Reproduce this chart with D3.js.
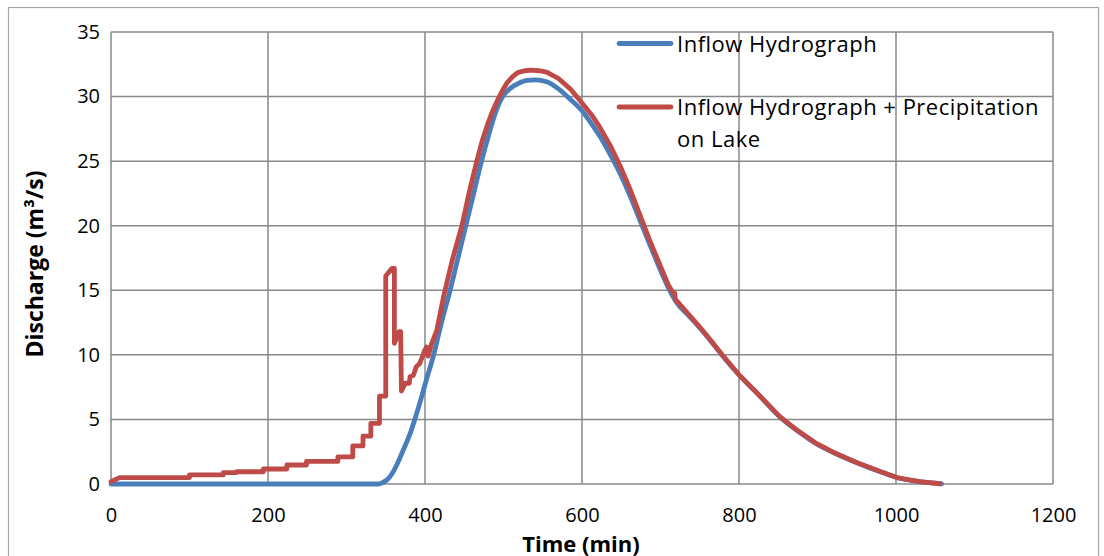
<!DOCTYPE html>
<html>
<head>
<meta charset="utf-8">
<script src="https://cdn.jsdelivr.net/npm/d3@7"></script>
<style>
body { margin: 0; background: #fff; }
svg { display: block; }
</style>
</head>
<body>
<div id="svg"></div>
<script>
// data (time in min, discharge in m3/s)
var inflowTime = [0, 340, 345, 350, 355, 360, 365, 370, 375, 381, 387, 394, 401, 411, 421, 432, 442, 452, 462, 472, 481, 490, 499, 508, 520, 530, 540, 555, 570, 585, 600, 612, 623, 636, 648, 660, 674, 686, 699, 710, 720, 735, 750, 765, 780, 800, 825, 852, 875, 899, 925, 954, 980, 1001, 1030, 1058];
var inflowQ = [0, 0, 0.08, 0.25, 0.55, 1.0, 1.6, 2.3, 3.0, 3.9, 5.0, 6.4, 7.9, 10.0, 12.5, 15.0, 17.5, 20.0, 22.5, 25.0, 27.0, 28.8, 30.0, 30.6, 31.05, 31.25, 31.3, 31.15, 30.6, 29.8, 28.9, 27.9, 26.9, 25.5, 24.1, 22.5, 20.4, 18.6, 16.7, 15.2, 14.1, 13.1, 12.1, 11.0, 9.85, 8.44, 6.9, 5.2, 4.1, 3.1, 2.3, 1.55, 0.95, 0.5, 0.18, 0.02];

var precipTime = [0, 11, 100, 100, 143, 143, 160, 160, 194, 194, 224, 224, 249, 249, 289, 289, 308, 308, 321, 321, 331, 331, 342, 342, 350, 350, 358, 361, 361, 367, 369, 370, 375, 380, 381, 385, 389, 393, 397, 400, 402, 404, 408, 415, 424, 435, 447, 456, 466, 473, 480, 487, 493, 499, 505, 511, 518, 527, 535, 545, 555, 570, 585, 600, 612, 623, 636, 648, 660, 674, 686, 699, 710, 716, 718, 719, 735, 750, 765, 780, 800, 825, 852, 875, 899, 925, 954, 980, 1001, 1030, 1056];
var precipQ = [0.18, 0.5, 0.5, 0.7, 0.7, 0.88, 0.88, 0.95, 0.95, 1.16, 1.16, 1.47, 1.47, 1.75, 1.75, 2.1, 2.1, 2.95, 2.95, 3.7, 3.7, 4.7, 4.7, 6.8, 6.8, 16.1, 16.7, 16.7, 10.9, 11.8, 11.8, 7.2, 7.8, 7.8, 8.3, 8.4, 9.1, 9.3, 9.9, 10.4, 10.6, 9.9, 10.8, 11.9, 14.6, 17.4, 20.0, 22.5, 25.0, 26.6, 27.9, 29.0, 29.8, 30.5, 31.1, 31.5, 31.85, 32.0, 32.05, 32.0, 31.9, 31.4, 30.6, 29.5, 28.6, 27.6, 26.2, 24.7, 23.0, 20.8, 18.9, 17.0, 15.4, 14.8, 14.8, 14.3, 13.2, 12.15, 11.05, 9.9, 8.46, 6.92, 5.22, 4.12, 3.12, 2.32, 1.56, 0.96, 0.5, 0.18, 0.02];

var xTicks = [0, 200, 400, 600, 800, 1000, 1200];
var yTicks = [0, 5, 10, 15, 20, 25, 30, 35];
var seriesNames = ["Inflow Hydrograph", "Inflow Hydrograph + Precipitation", "on Lake"];

var svgWidth = 1104, svgHeight = 556;
var fontFamily = "'Open Sans', 'DejaVu Sans', sans-serif";
var gridColour = "#888888";
var blueColour = "#4a7ebb", redColour = "#be4b48";

var svg = d3.select("#svg").append("svg")
    .attr("width", svgWidth).attr("height", svgHeight);

// chart border
svg.append("rect")
    .attr("x", 8.5).attr("y", 7.5)
    .attr("width", 1090).attr("height", 600)
    .attr("fill", "none").attr("stroke", "#a6a6a6").attr("stroke-width", 1.2);

var x = d3.scaleLinear().domain([0, 1200]).range([111, 1053]);
var y = d3.scaleLinear().domain([0, 35]).range([484, 32]);

// gridlines
var grid = svg.append("g");
grid.selectAll("line.v").data(xTicks).enter().append("line")
    .attr("x1", function(d) { return x(d); }).attr("x2", function(d) { return x(d); })
    .attr("y1", y(0)).attr("y2", y(35))
    .attr("stroke", gridColour).attr("stroke-width", 1.5);
grid.selectAll("line.h").data(yTicks).enter().append("line")
    .attr("x1", x(0)).attr("x2", x(1200))
    .attr("y1", function(d) { return y(d); }).attr("y2", function(d) { return y(d); })
    .attr("stroke", gridColour).attr("stroke-width", 1.5);

// axes (labels only)
var xAxis = svg.append("g")
    .attr("transform", "translate(0," + y(0) + ")")
    .call(d3.axisBottom(x).tickValues(xTicks).tickFormat(d3.format("d")).tickSize(0).tickPadding(24));
var yAxis = svg.append("g")
    .attr("transform", "translate(" + x(0) + ",0)")
    .call(d3.axisLeft(y).tickValues(yTicks).tickFormat(d3.format("d")).tickSize(0).tickPadding(11));
[xAxis, yAxis].forEach(function(a) {
    a.select(".domain").remove();
    a.selectAll("text")
        .attr("font-family", fontFamily)
        .attr("font-size", 20)
        .attr("fill", "#000");
});

// series
var line = d3.line()
    .x(function(d) { return x(d[0]); })
    .y(function(d) { return y(d[1]); });

svg.append("path")
    .datum(d3.zip(inflowTime, inflowQ))
    .attr("d", line.curve(d3.curveMonotoneX))
    .attr("fill", "none").attr("stroke", blueColour)
    .attr("stroke-width", 4.8).attr("stroke-linejoin", "round").attr("stroke-linecap", "round");

svg.append("path")
    .datum(d3.zip(precipTime, precipQ))
    .attr("d", line.curve(d3.curveLinear))
    .attr("fill", "none").attr("stroke", redColour)
    .attr("stroke-width", 4.8).attr("stroke-linejoin", "round").attr("stroke-linecap", "round");

// legend
var legend = svg.append("g").attr("font-family", fontFamily).attr("font-size", 22)
    .attr("letter-spacing", 0.5);
legend.append("line")
    .attr("x1", 619).attr("x2", 671).attr("y1", 43.5).attr("y2", 43.5)
    .attr("stroke", blueColour).attr("stroke-width", 4.8).attr("stroke-linecap", "round");
legend.append("text").attr("x", 677).attr("y", 52).text(seriesNames[0]);
legend.append("line")
    .attr("x1", 619).attr("x2", 671).attr("y1", 107).attr("y2", 107)
    .attr("stroke", redColour).attr("stroke-width", 4.8).attr("stroke-linecap", "round");
var t2 = legend.append("text").attr("x", 677).attr("y", 115);
t2.append("tspan").attr("x", 677).text(seriesNames[1]);
t2.append("tspan").attr("x", 677).attr("dy", 32).text(seriesNames[2]);

// axis titles
svg.append("text")
    .attr("x", 581).attr("y", 551.5)
    .attr("text-anchor", "middle")
    .attr("font-family", fontFamily).attr("font-size", 22).attr("font-weight", "bold")
    .text("Time (min)");
svg.append("text")
    .attr("transform", "translate(43,264) rotate(-90)")
    .attr("text-anchor", "middle")
    .attr("font-family", fontFamily).attr("font-size", 23).attr("font-weight", "bold")
    .text("Discharge (m³/s)");
</script>
</body>
</html>
